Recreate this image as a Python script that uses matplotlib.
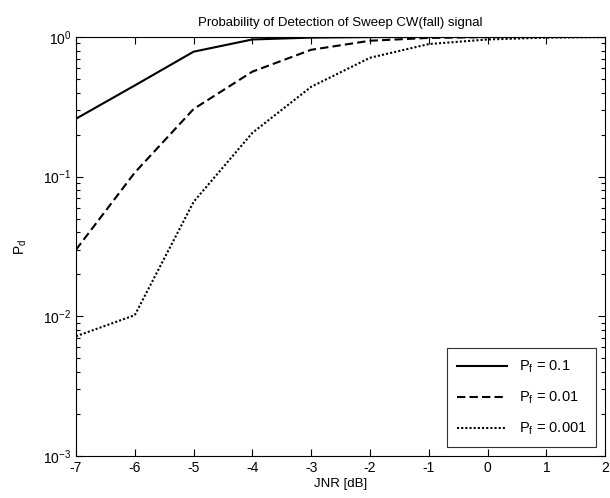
import numpy as np
import matplotlib
matplotlib.use("Agg")
import matplotlib.pyplot as plt
from matplotlib.ticker import LogLocator, NullFormatter

plt.rcParams["font.family"] = ["Liberation Sans", "DejaVu Sans"]
plt.rcParams["mathtext.default"] = "regular"
plt.rcParams["axes.unicode_minus"] = False

# Data
jnr = [-7, -6, -5, -4, -3, -2, -1, 0, 1, 2]
pd_01 = [0.26, 0.45, 0.785, 0.96, 0.99, 0.998, 1.0, 1.0, 1.0, 1.0]
pd_001 = [0.030, 0.107, 0.305, 0.565, 0.81, 0.94, 0.985, 0.998, 1.0, 1.0]
pd_0001 = [0.0072, 0.0102, 0.066, 0.206, 0.44, 0.71, 0.89, 0.96, 0.99, 1.0]

fig = plt.figure(figsize=(6.1, 4.98), dpi=100)
ax = fig.add_axes([0.1246, 0.0843, 0.8674, 0.8414])

ax.semilogy(jnr, pd_01, color="black", linestyle="-", linewidth=1.5,
            label=r"$P_f$ = 0.1")
ax.semilogy(jnr, pd_001, color="black", linestyle=(0, (4, 2)), linewidth=1.5,
            label=r"$P_f$ = 0.01")
ax.semilogy(jnr, pd_0001, color="black", linestyle=(0, (1, 1)), linewidth=1.5,
            label=r"$P_f$ = 0.001")

ax.set_xlim(-7, 2)
ax.set_ylim(1e-3, 1)
ax.set_xticks(range(-7, 3))
ax.yaxis.set_major_locator(LogLocator(base=10, numticks=10))
ax.yaxis.set_minor_locator(LogLocator(base=10, subs=np.arange(2, 10), numticks=10))
ax.yaxis.set_minor_formatter(NullFormatter())

ax.tick_params(which="both", direction="in", top=True, right=True,
               labelsize=10, colors="black")
ax.tick_params(which="major", length=5, width=0.8)
ax.tick_params(which="minor", length=3, width=0.8)
for s in ax.spines.values():
    s.set_linewidth(0.8)

ax.set_title("Probability of Detection of Sweep CW(fall) signal", fontsize=9.5, pad=8)
ax.set_xlabel("JNR [dB]", fontsize=9.5, labelpad=2)
ax.set_ylabel(r"$P_d$", fontsize=10, labelpad=10)

leg = ax.legend(loc="lower right", fontsize=10.5, frameon=True, fancybox=False,
                edgecolor="black", handlelength=3.4, labelspacing=1.0,
                borderpad=0.7, borderaxespad=0.6)
leg.get_frame().set_linewidth(0.8)

plt.savefig("out.png", dpi=100)
